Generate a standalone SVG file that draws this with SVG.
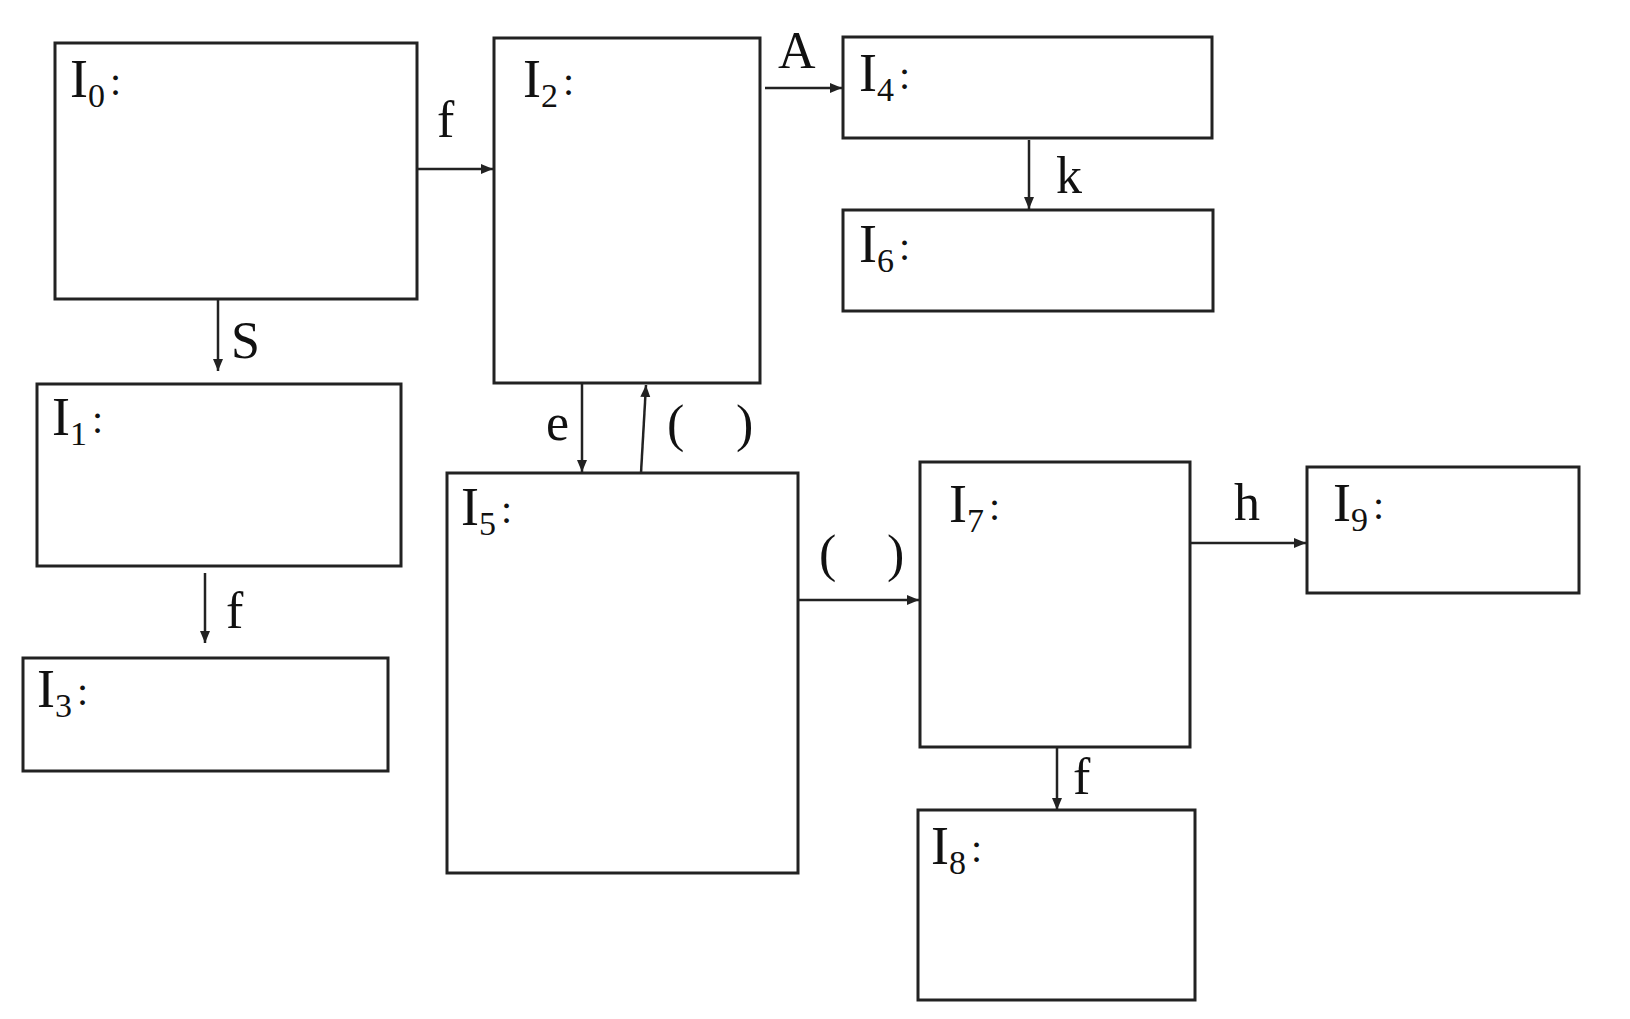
<svg xmlns="http://www.w3.org/2000/svg" width="1630" height="1019" viewBox="0 0 1630 1019">
<style>
.box{fill:#fff;stroke:#222;stroke-width:3}
.lbl{font-family:"Liberation Serif","Times New Roman",serif;font-size:54px;fill:#111}
.sub{font-size:34px}
.col{font-size:40px}
.edge{font-family:"Liberation Serif","Times New Roman",serif;font-size:52px;fill:#111}
.con{fill:none;stroke:#222;stroke-width:2.5}
</style>
<defs>
<marker id="ah" markerUnits="userSpaceOnUse" markerWidth="14" markerHeight="12" refX="12" refY="5" orient="auto">
<path d="M0,0 L12,5 L0,10 Z" fill="#222"/>
</marker>
</defs>
<rect width="1630" height="1019" fill="#fff"/>
<g id="connectors">
<path class="con" d="M417,169 H493" marker-end="url(#ah)"/>
<path class="con" d="M218,300 V371" marker-end="url(#ah)"/>
<path class="con" d="M205,573 V643" marker-end="url(#ah)"/>
<path class="con" d="M765,88 H842" marker-end="url(#ah)"/>
<path class="con" d="M1029,140 V209" marker-end="url(#ah)"/>
<path class="con" d="M582,384 V472" marker-end="url(#ah)"/>
<path class="con" d="M641,473 L646,385" marker-end="url(#ah)"/>
<path class="con" d="M798,600 H919" marker-end="url(#ah)"/>
<path class="con" d="M1190,543 H1306" marker-end="url(#ah)"/>
<path class="con" d="M1057,747 V810" marker-end="url(#ah)"/>
<text class="edge" x="437" y="137">f</text>
<text class="edge" x="231" y="358">S</text>
<text class="edge" x="226" y="628">f</text>
<text class="edge" x="778" y="68">A</text>
<text class="edge" x="1056" y="193">k</text>
<text class="edge" x="546" y="440">e</text>
<text class="edge" y="441"><tspan x="667">(</tspan><tspan x="736">)</tspan></text>
<text class="edge" y="571"><tspan x="819">(</tspan><tspan x="887">)</tspan></text>
<text class="edge" x="1234" y="520">h</text>
<text class="edge" x="1073" y="794">f</text>
</g>
<g id="I0"><rect class="box" x="55" y="43" width="362" height="256"/><text class="lbl" x="70" y="97">I<tspan class="sub" dy="10">0</tspan><tspan class="col" dx="5" dy="-12">:</tspan></text></g>
<g id="I1"><rect class="box" x="37" y="384" width="364" height="182"/><text class="lbl" x="52" y="435">I<tspan class="sub" dy="10">1</tspan><tspan class="col" dx="5" dy="-12">:</tspan></text></g>
<g id="I2"><rect class="box" x="494" y="38" width="266" height="345"/><text class="lbl" x="523" y="97">I<tspan class="sub" dy="10">2</tspan><tspan class="col" dx="5" dy="-12">:</tspan></text></g>
<g id="I3"><rect class="box" x="23" y="658" width="365" height="113"/><text class="lbl" x="37" y="707">I<tspan class="sub" dy="10">3</tspan><tspan class="col" dx="5" dy="-12">:</tspan></text></g>
<g id="I4"><rect class="box" x="843" y="37" width="369" height="101"/><text class="lbl" x="859" y="91">I<tspan class="sub" dy="10">4</tspan><tspan class="col" dx="5" dy="-12">:</tspan></text></g>
<g id="I5"><rect class="box" x="447" y="473" width="351" height="400"/><text class="lbl" x="461" y="525">I<tspan class="sub" dy="10">5</tspan><tspan class="col" dx="5" dy="-12">:</tspan></text></g>
<g id="I6"><rect class="box" x="843" y="210" width="370" height="101"/><text class="lbl" x="859" y="262">I<tspan class="sub" dy="10">6</tspan><tspan class="col" dx="5" dy="-12">:</tspan></text></g>
<g id="I7"><rect class="box" x="920" y="462" width="270" height="285"/><text class="lbl" x="949" y="522">I<tspan class="sub" dy="10">7</tspan><tspan class="col" dx="5" dy="-12">:</tspan></text></g>
<g id="I8"><rect class="box" x="918" y="810" width="277" height="190"/><text class="lbl" x="931" y="864">I<tspan class="sub" dy="10">8</tspan><tspan class="col" dx="5" dy="-12">:</tspan></text></g>
<g id="I9"><rect class="box" x="1307" y="467" width="272" height="126"/><text class="lbl" x="1333" y="521">I<tspan class="sub" dy="10">9</tspan><tspan class="col" dx="5" dy="-12">:</tspan></text></g>
</svg>
